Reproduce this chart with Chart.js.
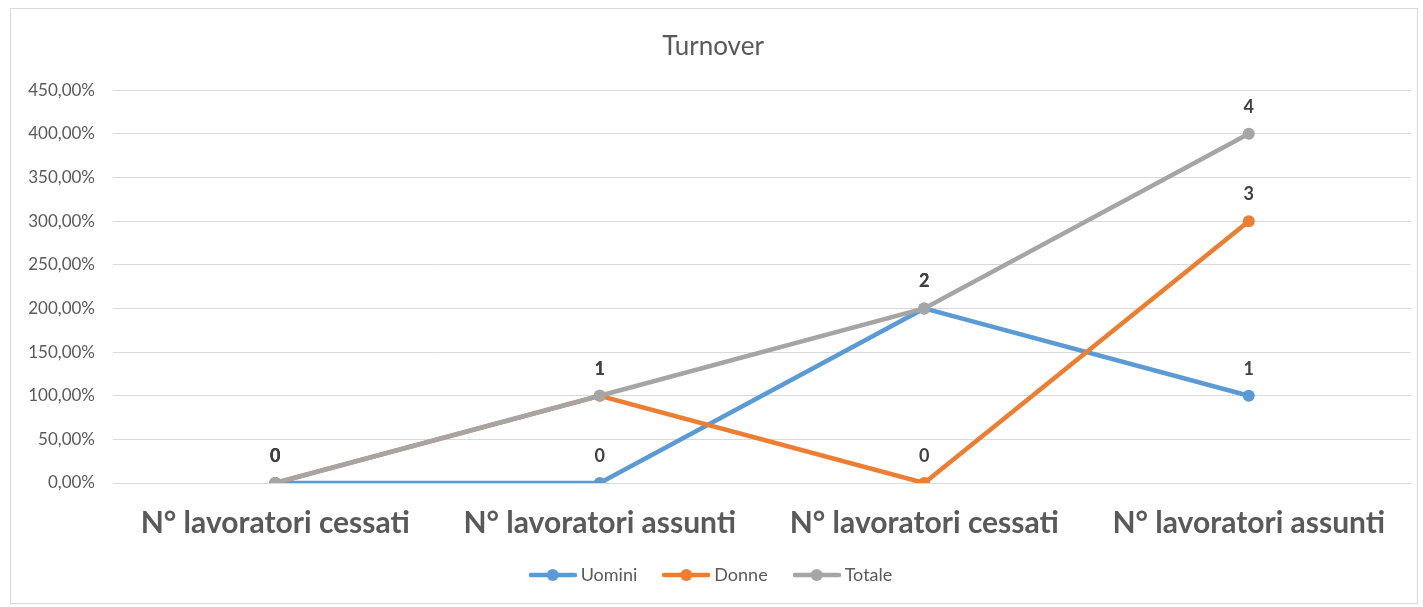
<!DOCTYPE html>
<html>
<head>
<meta charset="utf-8">
<script src="https://cdn.jsdelivr.net/npm/chart.js@4.4.1/dist/chart.umd.min.js"></script>
<style>
  html, body { margin: 0; padding: 0; background: #fff; }
  #box {
    position: absolute; left: 10px; top: 8px;
    width: 1406px; height: 594px;
    border: 1px solid #d9d9d9; background: #fff;
  }
</style>
</head>
<body>
<div id="box"><canvas id="chart"></canvas></div>
<script>
// dati del grafico
const categorie = ['N° lavoratori cessati', 'N° lavoratori assunti', 'N° lavoratori cessati', 'N° lavoratori assunti'];
const uomini = [0, 0, 2, 1];
const donne = [0, 1, 0, 3];
const totale = [0, 1, 2, 4];
const yTicks = [0, 0.5, 1, 1.5, 2, 2.5, 3, 3.5, 4, 4.5];

const FONT = 'Lato, "Open Sans", sans-serif';
const GREY = '#595959';

// icona legenda: linea con pallino
function legendIcon(color) {
  const c = document.createElement('canvas');
  c.width = 48; c.height = 14;
  const g = c.getContext('2d');
  g.strokeStyle = color; g.lineWidth = 4.5; g.lineCap = 'round';
  g.beginPath(); g.moveTo(2, 7); g.lineTo(46, 7); g.stroke();
  g.fillStyle = color;
  g.beginPath(); g.arc(24, 7, 6, 0, Math.PI * 2); g.fill();
  return c;
}

function serie(label, data, color, order) {
  return {
    label: label,
    data: data,
    order: order,
    borderColor: color,
    backgroundColor: color,
    borderWidth: 4.5,
    pointRadius: 6,
    pointHoverRadius: 6,
    pointBackgroundColor: color,
    pointBorderWidth: 0,
    tension: 0,
    icon: legendIcon(color)
  };
}

// etichette valori sopra i punti
const valueLabels = {
  id: 'valueLabels',
  afterDatasetsDraw(chart) {
    const ctx = chart.ctx;
    ctx.save();
    ctx.font = 'bold 18px ' + FONT;
    ctx.fillStyle = '#404040';
    ctx.textAlign = 'center';
    ctx.textBaseline = 'middle';
    chart.data.datasets.forEach((ds, i) => {
      chart.getDatasetMeta(i).data.forEach((pt, j) => {
        ctx.fillText(String(ds.data[j]), pt.x, pt.y - 27);
      });
    });
    ctx.restore();
  }
};

const ctx = document.getElementById('chart').getContext('2d');
new Chart(ctx, {
  type: 'line',
  data: {
    labels: categorie,
    datasets: [
      serie('Uomini', uomini, '#5b9bd5', 3),
      serie('Donne', donne, '#ed7d31', 2),
      serie('Totale', totale, '#a5a5a5', 1)
    ]
  },
  plugins: [valueLabels],
  options: {
    responsive: true,
    maintainAspectRatio: false,
    animation: false,
    layout: { padding: { left: 0, right: 2, top: 0, bottom: 9 } },
    plugins: {
      title: {
        display: true,
        text: 'Turnover',
        color: GREY,
        font: { family: FONT, size: 26, weight: 'normal' },
        padding: { top: 22, bottom: 28 }
      },
      legend: {
        position: 'bottom',
        labels: {
          color: GREY,
          font: { family: FONT, size: 18 },
          usePointStyle: true,
          pointStyleWidth: 38,
          padding: 30,
          generateLabels(chart) {
            return chart.data.datasets.map((ds, i) => ({
              text: ds.label,
              fillStyle: ds.borderColor,
              strokeStyle: ds.borderColor,
              pointStyle: ds.icon,
              fontColor: GREY,
              lineWidth: 0,
              datasetIndex: i,
              hidden: false
            }));
          }
        }
      },
      tooltip: { enabled: false }
    },
    scales: {
      x: {
        offset: true,
        grid: { display: false },
        border: { display: false },
        ticks: {
          color: GREY,
          font: { family: FONT, size: 30, weight: 'bold' },
          padding: 14
        },
        afterFit(axis) { axis.height = 53; }
      },
      y: {
        min: 0,
        max: 4.5,
        afterBuildTicks(axis) {
          axis.ticks = yTicks.map(v => ({ value: v }));
        },
        grid: { color: '#d9d9d9', lineWidth: 1, drawTicks: false },
        border: { display: false },
        ticks: {
          color: GREY,
          font: { family: FONT, size: 17 },
          padding: 18,
          callback: v => (v * 100).toFixed(2).replace('.', ',') + '%'
        },
        afterFit(axis) { axis.width = 102; }
      }
    }
  }
});
</script>
</body>
</html>
